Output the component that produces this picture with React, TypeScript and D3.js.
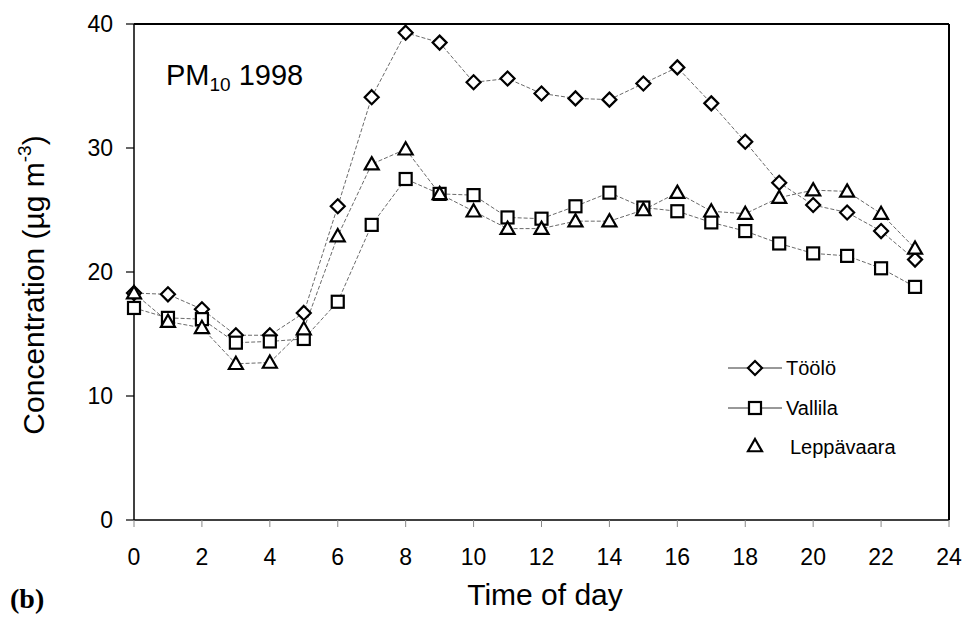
import React from "react";
import * as d3 from "d3";

const hours = d3.range(0, 24);
const toolo = [18.3, 18.2, 17.0, 14.9, 14.9, 16.7, 25.3, 34.1, 39.3, 38.5, 35.3, 35.6, 34.4, 34.0, 33.9, 35.2, 36.5, 33.6, 30.5, 27.2, 25.4, 24.8, 23.3, 21.0];
const vallila = [17.1, 16.3, 16.2, 14.3, 14.4, 14.6, 17.6, 23.8, 27.5, 26.3, 26.2, 24.4, 24.3, 25.3, 26.4, 25.2, 24.9, 24.0, 23.3, 22.3, 21.5, 21.3, 20.3, 18.8];
const leppavaara = [18.3, 16.0, 15.5, 12.6, 12.7, 15.4, 22.9, 28.7, 29.9, 26.3, 24.9, 23.5, 23.5, 24.1, 24.1, 25.0, 26.4, 24.9, 24.7, 26.0, 26.6, 26.5, 24.7, 21.9];
const xTicks = d3.range(0, 25, 2);
const yTicks = [0, 10, 20, 30, 40];
const seriesNames = ["Töölö", "Vallila", "Leppävaara"];

const W = 965, H = 632;
const left = 134, right = 949, top = 24, bottom = 520;
const FONT = "'Liberation Sans', Arial, sans-serif";

function Marker({ kind, x, y }: { kind: string; x: number; y: number }) {
  const sw = 2.2;
  if (kind === "diamond") {
    const r = 7;
    return <path d={`M${x},${y - r}L${x + r},${y}L${x},${y + r}L${x - r},${y}Z`} fill="white" stroke="black" strokeWidth={sw} />;
  }
  if (kind === "square") {
    const s = 6;
    return <rect x={x - s} y={y - s} width={2 * s} height={2 * s} fill="white" stroke="black" strokeWidth={sw} />;
  }
  const r = 7;
  return <path d={`M${x},${y - r}L${x + r},${y + r * 0.75}L${x - r},${y + r * 0.75}Z`} fill="white" stroke="black" strokeWidth={sw} />;
}

export default function App() {
  const x = d3.scaleLinear().domain([0, 24]).range([left, right]);
  const y = d3.scaleLinear().domain([0, 40]).range([bottom, top]);
  const line = d3.line<number>().x((_, i) => x(hours[i])).y((d) => y(d));
  const series = [
    { name: seriesNames[0], data: toolo, kind: "diamond" },
    { name: seriesNames[1], data: vallila, kind: "square" },
    { name: seriesNames[2], data: leppavaara, kind: "triangle" },
  ];
  return (
    <svg width={W} height={H} style={{ position: "absolute", left: 0, top: 0, background: "white" }} fontFamily={FONT}>
      <rect width={W} height={H} fill="white" />
      {/* frame */}
      <line x1={left} y1={top} x2={right} y2={top} stroke="black" strokeWidth={2} />
      <line x1={right} y1={top} x2={right} y2={bottom} stroke="black" strokeWidth={2} />
      <line x1={left} y1={top} x2={left} y2={bottom} stroke="black" strokeWidth={1.5} />
      <line x1={left} y1={bottom} x2={right} y2={bottom} stroke="black" strokeWidth={1.5} />
      {yTicks.map((t) => (
        <g key={t}>
          <line x1={left - 8} x2={left} y1={y(t)} y2={y(t)} stroke="black" strokeWidth={1.2} />
          <text x={113} y={y(t)} dy="0.35em" textAnchor="end" fontSize={23}>{t}</text>
        </g>
      ))}
      {xTicks.map((t) => (
        <g key={t}>
          <line x1={x(t)} x2={x(t)} y1={bottom} y2={bottom + 7} stroke="#888" strokeWidth={1} />
          <text x={x(t)} y={557} dy="0.35em" textAnchor="middle" fontSize={23}>{t}</text>
        </g>
      ))}
      {series.map((s) => (
        <path key={s.name + "l"} d={line(s.data) || ""} fill="none" stroke="#444" strokeWidth={0.8} strokeDasharray="4,2" />
      ))}
      {series.map((s) => (
        <g key={s.name}>
          {s.data.map((v, i) => (
            <Marker key={i} kind={s.kind} x={x(hours[i])} y={y(v)} />
          ))}
        </g>
      ))}
      {/* legend */}
      <line x1={728} x2={782} y1={368} y2={368} stroke="#333" strokeWidth={1} />
      <Marker kind="diamond" x={755} y={368} />
      <text x={786} y={368} dy="0.35em" fontSize={20}>{seriesNames[0]}</text>
      <line x1={728} x2={782} y1={408} y2={408} stroke="#333" strokeWidth={1} />
      <Marker kind="square" x={755} y={408} />
      <text x={786} y={408} dy="0.35em" fontSize={20}>{seriesNames[1]}</text>
      <Marker kind="triangle" x={755} y={446} />
      <text x={790} y={447} dy="0.35em" fontSize={20}>{seriesNames[2]}</text>
      {/* annotation */}
      <text x={166} y={85} fontSize={29}>
        PM<tspan fontSize={19} dy={6}>10</tspan><tspan dy={-6}> 1998</tspan>
      </text>
      {/* axis titles */}
      <text x={545} y={605} textAnchor="middle" fontSize={30}>Time of day</text>
      <text transform="translate(44,285) rotate(-90)" textAnchor="middle" fontSize={30}>
        Concentration (µg m<tspan fontSize={19} dy={-13}>-3</tspan><tspan dy={13}>)</tspan>
      </text>
      <text x={10} y={608} fontSize={28} fontWeight="bold" fontFamily="'Liberation Serif', 'Times New Roman', serif">(b)</text>
    </svg>
  );
}
